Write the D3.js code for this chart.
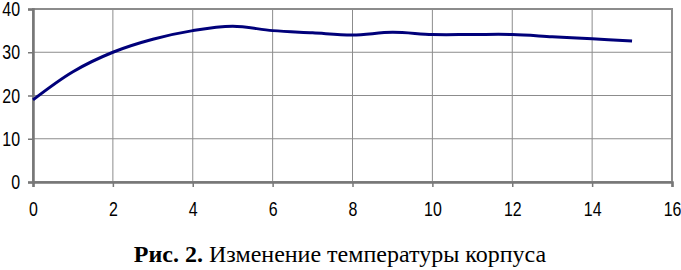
<!DOCTYPE html>
<html>
<head>
<meta charset="utf-8">
<script src="https://cdn.jsdelivr.net/npm/d3@7"></script>
<style>
  body { margin: 0; background: #fff; }
  svg { display: block; }
</style>
</head>
<body>
<div id="chart"></div>
<script>
// time points and body temperature
var xValues = [0, 1, 2, 3, 4, 5, 6, 7, 8, 9, 10, 11, 12, 13, 14, 15];
var tempValues = [19, 25.5, 30, 33, 35, 36, 35, 34.5, 34, 34.6, 34.1, 34.1, 34.1, 33.6, 33.1, 32.6];
var xTicks = [0, 2, 4, 6, 8, 10, 12, 14, 16];
var yTicks = [0, 10, 20, 30, 40];
var captionBold = "Рис. 2.";
var captionText = " Изменение температуры корпуса";

var W = 681, H = 270;
var m = {t: 9, r: 9, b: 88, l: 33};
var w = W - m.l - m.r, h = H - m.t - m.b;
var narrow = 0.76; // squeeze the sans font to look like Arial Narrow

var svg = d3.select("#chart").append("svg")
    .attr("width", W).attr("height", H);
var g = svg.append("g")
    .attr("transform", "translate(" + m.l + "," + m.t + ")");

var x = d3.scaleLinear().domain([0, 16]).range([0, w]);
var y = d3.scaleLinear().domain([0, 40]).range([h, 0]);

// gridlines
g.append("g").selectAll("line").data(yTicks).enter().append("line")
    .attr("x1", 0).attr("x2", w)
    .attr("y1", function(d){ return y(d); }).attr("y2", function(d){ return y(d); })
    .attr("stroke", "#8c8c8c").attr("stroke-width", 1);
g.append("g").selectAll("line").data(xTicks).enter().append("line")
    .attr("y1", 0).attr("y2", h)
    .attr("x1", function(d){ return x(d); }).attr("x2", function(d){ return x(d); })
    .attr("stroke", "#8c8c8c").attr("stroke-width", 1);

// plot frame (top / right)
g.append("rect").attr("width", w).attr("height", h)
    .attr("fill", "none").attr("stroke", "#8c8c8c").attr("stroke-width", 2);

// axes
var xAxis = g.append("g").attr("transform", "translate(0," + h + ")")
    .call(d3.axisBottom(x).tickValues(xTicks).tickSize(5).tickPadding(14));
var yAxis = g.append("g")
    .call(d3.axisLeft(y).tickValues(yTicks).tickSize(5).tickPadding(8));
[xAxis, yAxis].forEach(function(a){
    a.select(".domain").attr("stroke", "#777").attr("stroke-width", 2.5);
    a.selectAll(".tick line").attr("stroke", "#777").attr("stroke-width", 1.5);
    a.selectAll("text").attr("fill", "#000")
        .style("font-family", "'Liberation Sans', Arial, sans-serif")
        .style("font-size", "21px")
        .attr("x", function(){ return (+d3.select(this).attr("x") || 0) / narrow; })
        .attr("transform", "scale(" + narrow + ",1)");
});

// temperature curve
var line = d3.line()
    .x(function(d, i){ return x(xValues[i]); })
    .y(function(d){ return y(d); })
    .curve(d3.curveCatmullRom.alpha(0.5));
g.append("path").datum(tempValues)
    .attr("d", line)
    .attr("fill", "none")
    .attr("stroke", "#00007a")
    .attr("stroke-width", 3);

// caption
var cap = svg.append("text")
    .attr("x", 340).attr("y", 262)
    .attr("text-anchor", "middle")
    .style("font-family", "'Liberation Serif', 'Times New Roman', serif")
    .style("font-size", "24px");
cap.append("tspan").style("font-weight", "bold").text(captionBold);
cap.append("tspan").text(captionText);
</script>
</body>
</html>
